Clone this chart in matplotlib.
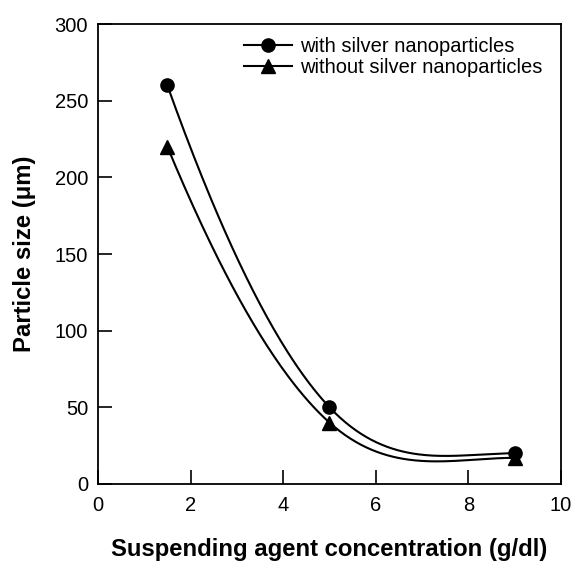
import numpy as np
import matplotlib.pyplot as plt

# data
conc = [1.5, 5.0, 9.0]
size_with = [260, 50, 20]
size_without = [220, 40, 17]
labels = ["with silver nanoparticles", "without silver nanoparticles"]


def smooth_curve(x, y, n=200):
    # cubic hermite through the points: central slopes inside,
    # one-sided 3-point slopes at the ends (clipped like pchip)
    x = np.asarray(x, float)
    y = np.asarray(y, float)
    h = np.diff(x)
    d = np.diff(y) / h
    m = np.zeros_like(y)
    m[1:-1] = (y[2:] - y[:-2]) / (x[2:] - x[:-2])
    m[0] = ((2 * h[0] + h[1]) * d[0] - h[0] * d[1]) / (h[0] + h[1])
    m[-1] = ((2 * h[-1] + h[-2]) * d[-1] - h[-1] * d[-2]) / (h[-1] + h[-2])
    if np.sign(m[0]) != np.sign(d[0]):
        m[0] = 0
    if np.sign(m[-1]) != np.sign(d[-1]):
        m[-1] = 0
    xs = np.linspace(x[0], x[-1], n)
    k = np.clip(np.searchsorted(x, xs) - 1, 0, len(h) - 1)
    t = (xs - x[k]) / h[k]
    ys = ((2 * t**3 - 3 * t**2 + 1) * y[k] + (t**3 - 2 * t**2 + t) * h[k] * m[k]
          + (-2 * t**3 + 3 * t**2) * y[k + 1] + (t**3 - t**2) * h[k] * m[k + 1])
    return xs, ys


plt.rcParams['font.family'] = ['Liberation Sans', 'DejaVu Sans']

fig = plt.figure(figsize=(5.76, 5.62), dpi=100)
ax = fig.add_axes([0.170, 0.139, 0.804, 0.818])

for ys, mk, lab in [(size_with, 'o', labels[0]), (size_without, '^', labels[1])]:
    cx, cy = smooth_curve(conc, ys)
    ax.plot(cx, cy, color='black', lw=1.5)
    ax.plot(conc, ys, linestyle='none', marker=mk, color='black', markersize=9.5)
    # legend proxy: line with marker
    ax.plot([], [], color='black', lw=1.5, marker=mk, markersize=9.5, label=lab)

ax.set_xlim(0, 10)
ax.set_ylim(0, 300)
ax.set_xticks([0, 2, 4, 6, 8, 10])
ax.set_yticks([0, 50, 100, 150, 200, 250, 300])
ax.tick_params(direction='in', length=10, width=1.2, labelsize=14.5)
ax.tick_params(axis='x', pad=9)
ax.tick_params(axis='y', pad=7)
for s in ax.spines.values():
    s.set_linewidth(1.3)

ax.set_xlabel("Suspending agent concentration (g/dl)", fontsize=17.2,
              fontweight='bold')
ax.xaxis.set_label_coords(0.5, -0.118)
ax.set_ylabel("Particle size (\u03bcm)", fontsize=17.2, fontweight='bold')
ax.yaxis.set_label_coords(-0.133, 0.5)

ax.legend(loc='upper right', bbox_to_anchor=(0.978, 0.99), frameon=False,
          fontsize=14.5, handlelength=2.4, handletextpad=0.4,
          labelspacing=0.1, borderaxespad=0.0)

fig.savefig("out.png", dpi=100)
